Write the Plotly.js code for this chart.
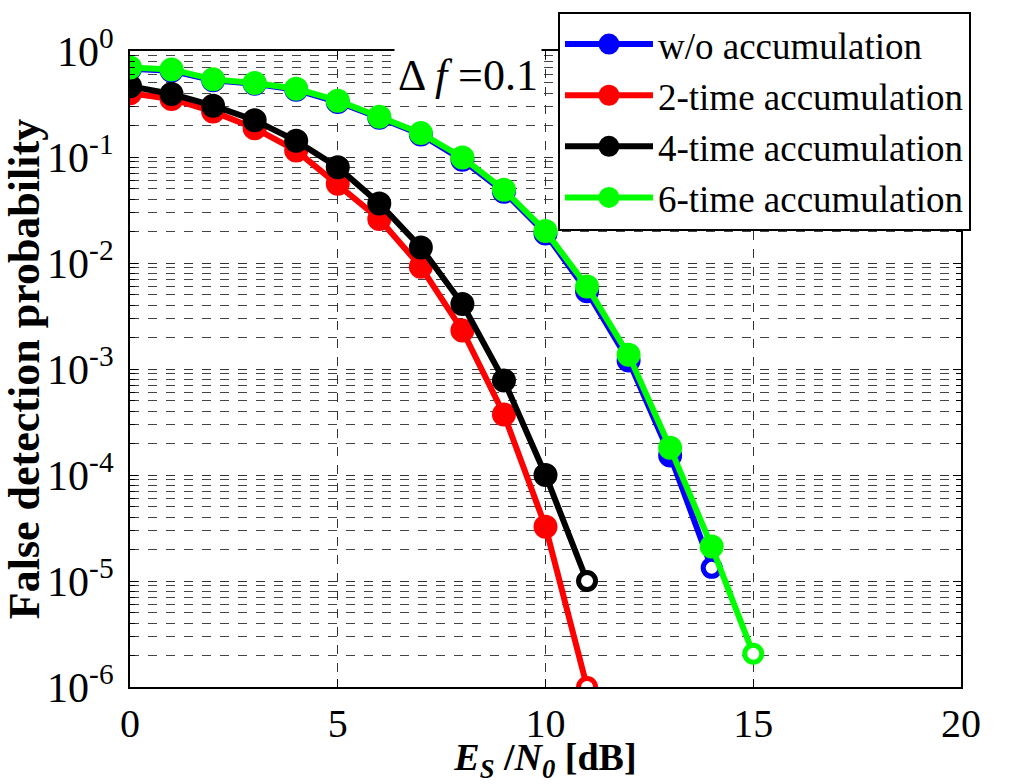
<!DOCTYPE html>
<html>
<head>
<meta charset="utf-8">
<script src="https://cdn.plot.ly/plotly-3.0.1.min.js"></script>
<style>body{margin:0;padding:0;background:#fff;}#chart{width:1022px;height:784px;}</style>
</head>
<body>
<div id="chart"></div>
<script>
// ---- data ----
const snrWo   = [0,1,2,3,4,5,6,7,8,9,10,11,12,13,14];
const probWo  = [0.68,0.65,0.53,0.49,0.43,0.33,0.235,0.163,0.094,0.047,0.019,0.0054,0.0012,1.53e-4,1.33e-5];
const snr2    = [0,1,2,3,4,5,6,7,8,9,10,11];
const prob2   = [0.40,0.353,0.268,0.187,0.115,0.0558,0.026,0.0092,0.00231,3.73e-4,3.25e-5,1.0e-6];
const snr4    = [0,1,2,3,4,5,6,7,8,9,10,11];
const prob4   = [0.466,0.393,0.305,0.222,0.142,0.080,0.0365,0.014,0.0041,7.8e-4,1.0e-4,1.0e-5];
const snr6    = [0,1,2,3,4,5,6,7,8,9,10,11,12,13,14,15];
const prob6   = [0.70,0.67,0.54,0.50,0.44,0.34,0.24,0.168,0.099,0.049,0.020,0.0060,0.00136,1.81e-4,2.12e-5,2.06e-6];
const seriesNames = ['w/o accumulation','2-time accumulation','4-time accumulation','6-time accumulation'];
const yTickVals  = [1,0.1,0.01,0.001,1e-4,1e-5,1e-6];
const yTickText  = ['10<sup>0</sup>','10<sup>-1</sup>','10<sup>-2</sup>','10<sup>-3</sup>','10<sup>-4</sup>','10<sup>-5</sup>','10<sup>-6</sup>'];
const xTickVals  = [0,5,10,15,20];

// ---- styling ----
const colors = ['#0000ff','#ff0000','#000000','#00ff00'];
const FONT = 'Liberation Serif';
const xs = [snrWo, snr2, snr4, snr6];
const ys = [probWo, prob2, prob4, prob6];

const traces = xs.map((x, i) => {
  const n = x.length;
  const mcol = x.map((_, k) => k === n - 1 ? '#ffffff' : colors[i]);
  const msize = x.map((_, k) => k === n - 1 ? 17 : 19);
  return {
    type: 'scatter', mode: 'lines+markers',
    x: x, y: ys[i], name: seriesNames[i],
    line: {color: colors[i], width: 6},
    marker: {symbol: 'circle', size: msize, opacity: 1, color: mcol, line: {color: colors[i], width: 5}}
  };
});

const layout = {
  width: 1022, height: 784,
  margin: {l: 130, r: 61, t: 36, b: 97},
  paper_bgcolor: '#fff', plot_bgcolor: '#fff',
  font: {family: FONT, color: '#000'},
  showlegend: true,
  legend: {
    x: 0.515, y: 1.062, xanchor: 'left', yanchor: 'top',
    bgcolor: '#fff', bordercolor: '#000', borderwidth: 2,
    font: {family: FONT, size: 37, color: '#000'},
    itemwidth: 88, tracegroupgap: 0
  },
  xaxis: {
    range: [0, 20],
    tickmode: 'array', tickvals: xTickVals,
    tickfont: {family: FONT, size: 40},
    ticks: 'inside', ticklen: 8, tickcolor: '#000',
    showline: true, linecolor: '#000', linewidth: 2, mirror: 'ticks',
    showgrid: true, gridcolor: '#333', gridwidth: 1, griddash: 'dash',
    zeroline: false,
    title: {text: '<b><i>E</i><sub><i>S</i></sub> /<i>N</i><sub><i>0</i></sub> [dB]</b>', font: {family: FONT, size: 38}, standoff: 6}
  },
  yaxis: {
    type: 'log', range: [-6, 0],
    tickmode: 'array', tickvals: yTickVals, ticktext: yTickText,
    tickfont: {family: FONT, size: 42},
    ticks: 'inside', ticklen: 8, tickcolor: '#000',
    ticklabelstandoff: 6,
    showline: true, linecolor: '#000', linewidth: 2, mirror: 'ticks',
    showgrid: true, gridcolor: '#333', gridwidth: 1, griddash: 'dash',
    zeroline: false,
    minor: {dtick: 'D1', showgrid: true, gridcolor: '#444', gridwidth: 1, griddash: 'dash', ticks: 'inside', ticklen: 5, tickcolor: '#000'},
    title: {text: '<b>False detection probability</b>', font: {family: FONT, size: 44}, standoff: 6}
  },
  annotations: [{
    xref: 'paper', yref: 'paper', x: 0.318, y: 0.962, xanchor: 'left', yanchor: 'middle',
    text: 'Δ <i>f</i> =0.1', showarrow: false,
    font: {family: FONT, size: 44, color: '#000'},
    bgcolor: '#fff', borderpad: 3
  }]
};

Plotly.newPlot('chart', traces, layout, {displayModeBar: false, staticPlot: true});
</script>
</body>
</html>
